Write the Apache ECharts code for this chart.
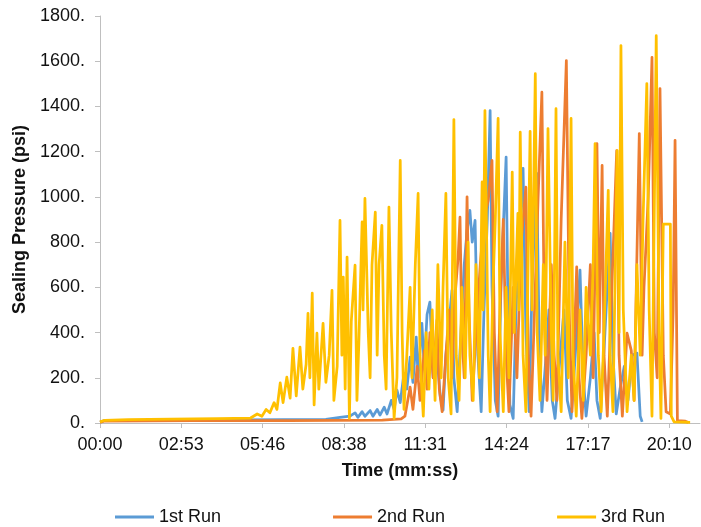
<!DOCTYPE html>
<html>
<head>
<meta charset="utf-8">
<title>Sealing Pressure</title>
<script src="https://cdn.jsdelivr.net/npm/echarts@6/dist/echarts.min.js"></script>
<style>
  html, body { margin: 0; padding: 0; background: #fff; }
  #chart { width: 701px; height: 527px; }
</style>
</head>
<body>
<div id="chart"></div>
<script>
// time in seconds, pressure in psi
const seriesNames = ['1st Run', '2nd Run', '3rd Run']
const seriesColors = ['#5B9BD5', '#ED7D31', '#FFC000']
const yTicks = [0, 200, 400, 600, 800, 1000, 1200, 1400, 1600, 1800]

const run1 = [
  [0, 4], [8, 10], [100, 12], [300, 14], [480, 16], [510, 25], [531, 30], [542, 45], [548, 25],
  [557, 50], [563, 30], [574, 55], [580, 30], [589, 60], [595, 35], [604, 70], [610, 40],
  [619, 100], [625, 60], [631, 146], [638, 90], [646, 220], [652, 150], [659, 291], [665, 180],
  [672, 380], [676, 200], [684, 441], [689, 250], [695, 480], [701, 535], [708, 200], [714, 350],
  [723, 120], [729, 57], [735, 300], [742, 450], [748, 587], [752, 200], [759, 50], [767, 400],
  [774, 700], [780, 850], [786, 940], [791, 800], [797, 896], [803, 300], [810, 50], [816, 500],
  [823, 900], [829, 1382], [833, 600], [840, 100], [846, 30], [852, 600], [863, 1176], [867, 500],
  [871, 80], [878, 20], [884, 500], [893, 900], [899, 1126], [905, 400], [912, 50], [918, 600],
  [928, 1104], [933, 400], [939, 50], [948, 300], [954, 500], [961, 100], [967, 20], [978, 300],
  [986, 500], [993, 100], [1001, 20], [1010, 300], [1020, 676], [1027, 200], [1033, 30],
  [1042, 200], [1050, 400], [1056, 100], [1063, 20], [1073, 400], [1084, 839], [1090, 300],
  [1097, 40], [1105, 150], [1114, 250], [1122, 100], [1131, 300], [1141, 309], [1148, 30], [1152, 5]
]

const run2 = [
  [0, 3], [8, 8], [200, 10], [400, 11], [600, 13], [640, 18], [648, 30], [659, 159], [665, 60],
  [674, 250], [680, 100], [689, 320], [695, 150], [701, 400], [708, 200], [716, 455], [721, 150],
  [727, 50], [735, 300], [742, 500], [748, 200], [754, 550], [761, 733], [765, 910], [769, 400],
  [774, 200], [780, 1000], [784, 500], [791, 100], [799, 400], [808, 700], [816, 900], [825, 985],
  [833, 1161], [838, 400], [844, 50], [850, 500], [857, 900], [863, 300], [869, 50], [878, 600],
  [886, 200], [895, 800], [905, 1043], [910, 300], [916, 30], [925, 600], [931, 1000], [939, 1463],
  [944, 500], [950, 100], [959, 700], [965, 300], [971, 100], [980, 900], [991, 1603], [997, 500],
  [1003, 50], [1013, 690], [1018, 200], [1024, 20], [1033, 300], [1042, 700], [1048, 200],
  [1056, 1236], [1061, 400], [1067, 1139], [1071, 300], [1078, 30], [1086, 500], [1098, 1205],
  [1103, 300], [1110, 30], [1120, 397], [1129, 320], [1135, 100], [1146, 1280], [1152, 300],
  [1156, 600], [1165, 1000], [1173, 1617], [1178, 400], [1184, 200], [1190, 1479], [1197, 300],
  [1203, 50], [1212, 40], [1218, 500], [1222, 1250], [1227, 10], [1244, 8], [1250, 2]
]

const run3 = [
  [0, 5], [10, 12], [60, 15], [150, 17], [250, 19], [320, 22], [334, 40], [344, 30], [353, 60],
  [361, 45], [370, 90], [376, 60], [383, 177], [389, 90], [397, 203], [404, 110], [410, 330],
  [417, 120], [425, 336], [431, 150], [438, 260], [442, 485], [446, 200], [451, 574], [455, 80],
  [461, 397], [465, 150], [474, 441], [480, 180], [487, 300], [493, 587], [497, 100], [504, 250],
  [510, 896], [514, 300], [517, 645], [521, 150], [525, 734], [530, 20], [534, 450], [542, 698],
  [546, 100], [550, 350], [557, 889], [559, 500], [563, 993], [570, 400], [574, 200], [578, 700],
  [585, 933], [589, 300], [593, 700], [599, 874], [604, 300], [608, 150], [614, 955], [619, 400],
  [625, 20], [631, 200], [638, 1161], [642, 400], [646, 60], [652, 300], [659, 600], [663, 200],
  [670, 700], [676, 1015], [680, 300], [687, 30], [693, 400], [699, 150], [706, 500], [712, 100],
  [718, 700], [725, 200], [729, 600], [735, 1015], [740, 200], [746, 40], [752, 1342], [757, 300],
  [763, 100], [769, 600], [776, 200], [782, 800], [786, 300], [793, 100], [799, 700], [806, 200],
  [812, 1066], [814, 500], [818, 1382], [825, 300], [829, 50], [835, 600], [840, 900], [846, 1347],
  [850, 400], [857, 50], [863, 600], [869, 200], [876, 1110], [880, 400], [888, 927], [890, 500],
  [893, 1286], [899, 300], [905, 50], [914, 1290], [918, 500], [925, 1545], [929, 400], [935, 100],
  [942, 700], [946, 300], [952, 1302], [959, 400], [963, 100], [969, 1390], [973, 300], [980, 50],
  [988, 800], [995, 200], [1001, 1347], [1005, 300], [1012, 30], [1020, 500], [1027, 100],
  [1033, 600], [1042, 300], [1048, 700], [1052, 1236], [1059, 300], [1065, 50], [1071, 400],
  [1080, 1029], [1084, 300], [1090, 50], [1099, 1205], [1103, 400], [1107, 1669], [1112, 500],
  [1120, 50], [1129, 300], [1135, 100], [1141, 700], [1148, 300], [1154, 900], [1162, 1501],
  [1167, 500], [1173, 30], [1182, 1713], [1188, 400], [1192, 20], [1197, 880], [1212, 880],
  [1214, 30], [1220, 5], [1254, 3]
]

const runs = [run1, run2, run3]

function pad (n) {
  return (n < 10 ? '0' : '') + n
}

function mmss (v) {
  const s = Math.round(v)
  return pad(Math.floor(s / 60)) + ':' + pad(s % 60)
}

const font = 'Liberation Sans, Arial, sans-serif'

const chart = echarts.init(document.getElementById('chart'))

const option = {
  animation: false,
  backgroundColor: '#fff',
  grid: {
    left: 100,
    top: 16,
    right: 1,
    bottom: 104
  },
  legend: {
    data: seriesNames,
    left: 110,
    top: 503,
    icon: 'rect',
    itemWidth: 39,
    itemHeight: 3,
    itemGap: 112,
    textStyle: {
      fontFamily: font,
      fontSize: 18,
      color: '#111'
    }
  },
  xAxis: {
    type: 'value',
    min: 0,
    max: 1275,
    interval: 172.8,
    name: 'Time (mm:ss)',
    nameLocation: 'middle',
    nameGap: 39,
    nameTextStyle: {
      fontFamily: font,
      fontSize: 18,
      fontWeight: 'bold',
      color: '#111'
    },
    axisLine: { lineStyle: { color: '#bfbfbf', width: 1 } },
    axisTick: { show: true, length: 5, lineStyle: { color: '#bfbfbf' } },
    splitLine: { show: false },
    axisLabel: {
      margin: 13,
      showMaxLabel: false,
      fontFamily: font,
      fontSize: 18,
      color: '#111',
      formatter: mmss
    }
  },
  yAxis: {
    type: 'value',
    min: yTicks[0],
    max: yTicks[yTicks.length - 1],
    interval: 200,
    name: 'Sealing Pressure (psi)',
    nameLocation: 'middle',
    nameGap: 70,
    nameTextStyle: {
      fontFamily: font,
      fontSize: 18,
      fontWeight: 'bold',
      color: '#111'
    },
    axisLine: { show: true, lineStyle: { color: '#bfbfbf', width: 1 } },
    axisTick: { show: true, length: 5, lineStyle: { color: '#bfbfbf' } },
    splitLine: { show: false },
    axisLabel: {
      margin: 15,
      fontFamily: font,
      fontSize: 18,
      color: '#111',
      formatter: function (v) { return v + '.' }
    }
  },
  series: runs.map(function (d, i) {
    return {
      name: seriesNames[i],
      type: 'line',
      data: d,
      showSymbol: false,
      symbol: 'none',
      color: seriesColors[i],
      lineStyle: { width: 2.75, color: seriesColors[i], join: 'round' }
    }
  })
}

chart.setOption(option)
</script>
</body>
</html>
